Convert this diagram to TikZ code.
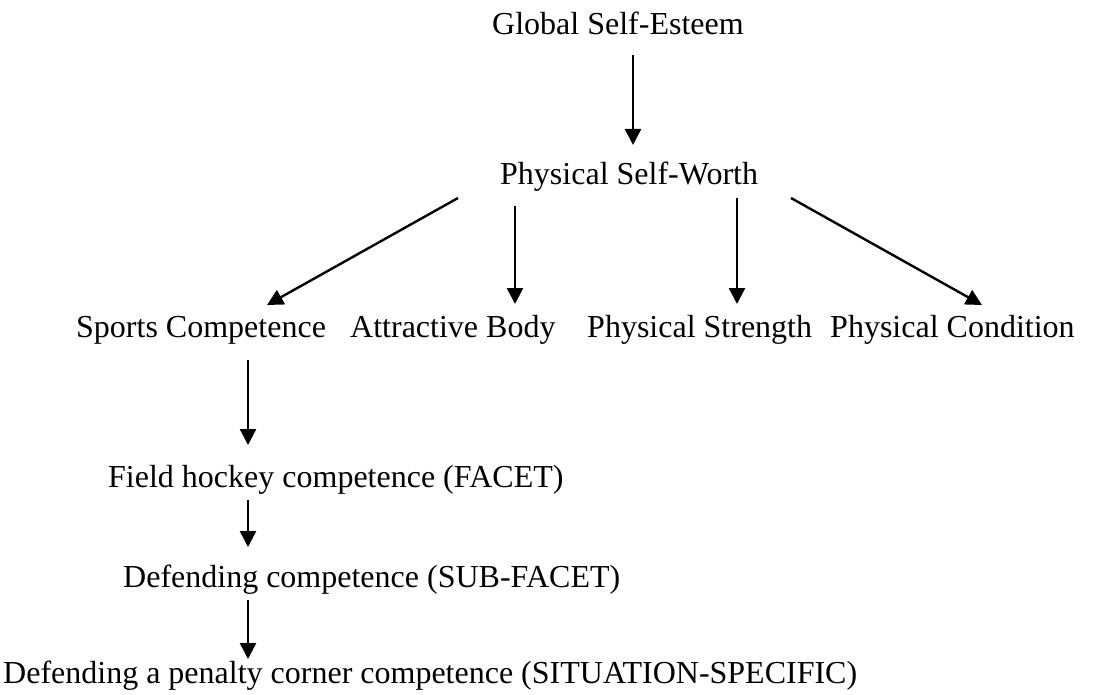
\documentclass[tikz,border=0pt]{standalone}
\usepackage{fontspec}
\setmainfont{Liberation Serif}
\usetikzlibrary{arrows.meta,calc}
\begin{document}
\begin{tikzpicture}[x=1pt,y=-1pt,
  label text/.style={anchor=base west,inner sep=0pt,font=\fontsize{32}{38}\selectfont},
  link/.style={line width=2.4pt,-{Triangle[width=16pt,length=16pt]}}]
\useasboundingbox (0,0) rectangle (1097,695);
% hierarchy levels
\node[label text] (gse) at (492,35)  {Global Self-Esteem};
\node[label text] (psw) at (500,185) {Physical Self-Worth};
\node[label text] (sc)  at (76,337)  {Sports Competence};
\node[label text] (ab)  at (350,337) {Attractive Body};
\node[label text] (ps)  at (587,337) {Physical Strength};
\node[label text] (pc)  at (830,337) {Physical Condition};
\node[label text] (fh)  at (108,487) {Field hockey competence (FACET)};
\node[label text] (dc)  at (123,587) {Defending competence (SUB-FACET)};
\node[label text] (dp)  at (3,683)   {Defending a penalty corner competence (SITUATION-SPECIFIC)};
% connectors
\draw[link] ($(gse.base west)+(141,20)$) -- ($(psw.base west)+(133,-40)$);
\draw[link] ($(psw.base west)+(-42,13)$) -- ($(sc.base west)+(191,-32)$);
\draw[link] ($(psw.base west)+(15,21)$)  -- ($(ab.base west)+(165,-33)$);
\draw[link] ($(psw.base west)+(237,13)$) -- ($(ps.base west)+(150,-33)$);
\draw[link] ($(psw.base west)+(291,13)$) -- ($(pc.base west)+(152,-32)$);
\draw[link] ($(sc.base west)+(172,23)$)  -- ($(fh.base west)+(140,-42)$);
\draw[link] ($(fh.base west)+(140,13)$)  -- ($(dc.base west)+(125,-40)$);
\draw[link] ($(dc.base west)+(125,13)$)  -- ($(dp.base west)+(245,-24)$);
\end{tikzpicture}
\end{document}
